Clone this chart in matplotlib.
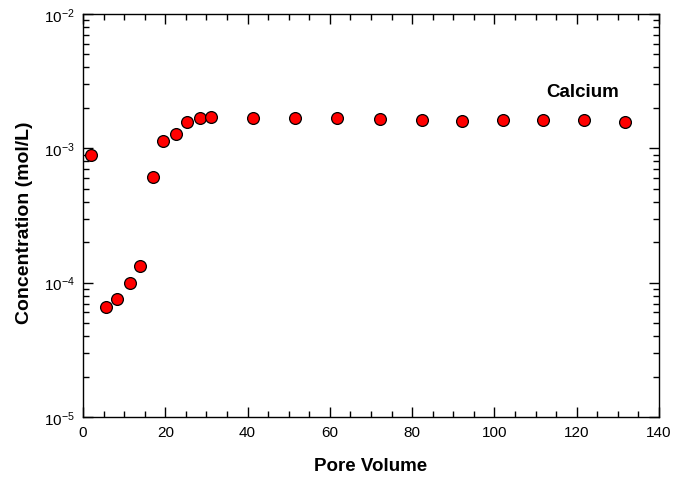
import matplotlib
matplotlib.use("Agg")
import matplotlib.pyplot as plt
from matplotlib.ticker import LogLocator, MultipleLocator, FixedLocator

plt.rcParams["font.family"] = ["Liberation Sans", "DejaVu Sans"]
plt.rcParams["mathtext.default"] = "regular"

# pore volume vs calcium concentration (mol/L)
pore_volume = [1.9, 5.6, 8.3, 11.4, 13.9, 17.0, 19.4, 22.6, 25.3, 28.4, 31.1,
               41.3, 51.6, 61.8, 72.1, 82.4, 92.2, 102.0, 111.9, 121.7, 131.7]
calcium = [9.0e-4, 6.6e-5, 7.5e-5, 1.0e-4, 1.34e-4, 6.1e-4, 1.13e-3, 1.29e-3,
           1.56e-3, 1.67e-3, 1.71e-3, 1.69e-3, 1.67e-3, 1.67e-3, 1.65e-3,
           1.62e-3, 1.61e-3, 1.63e-3, 1.62e-3, 1.62e-3, 1.58e-3]

fig = plt.figure(figsize=(6.74, 4.85), dpi=100)
ax = fig.add_axes([0.1231, 0.1381, 0.8546, 0.8309])

ax.plot(pore_volume, calcium, "o", color="red", markeredgecolor="black",
        markeredgewidth=0.9, markersize=8.5, clip_on=False, zorder=3)

ax.set_yscale("log")
ax.set_xlim(0, 140)
ax.set_ylim(1e-5, 1e-2)

ax.xaxis.set_major_locator(MultipleLocator(20))
ax.xaxis.set_minor_locator(MultipleLocator(5))
ax.yaxis.set_major_locator(FixedLocator([1e-5, 1e-4, 1e-3, 1e-2]))
ax.yaxis.set_minor_locator(LogLocator(base=10, subs=range(2, 10)))
ax.set_yticklabels(["$10^{-5}$", "$10^{-4}$", "$10^{-3}$", "$10^{-2}$"])

ax.tick_params(which="both", direction="in", top=True, right=True,
               labelsize=11, width=1, color="black")
ax.tick_params(which="major", length=7, pad=6)
ax.tick_params(which="minor", length=4.5)
for s in ax.spines.values():
    s.set_linewidth(1)

ax.set_xlabel("Pore Volume", fontsize=13.5, fontweight="bold", labelpad=13)
ax.set_ylabel("Concentration (mol/L)", fontsize=14, fontweight="bold")
ax.yaxis.set_label_coords(-0.087, 0.484)

ax.text(121.5, 2.65e-3, "Calcium", fontsize=13.5, fontweight="bold",
        ha="center", va="center")

fig.savefig("out.png", dpi=100)
